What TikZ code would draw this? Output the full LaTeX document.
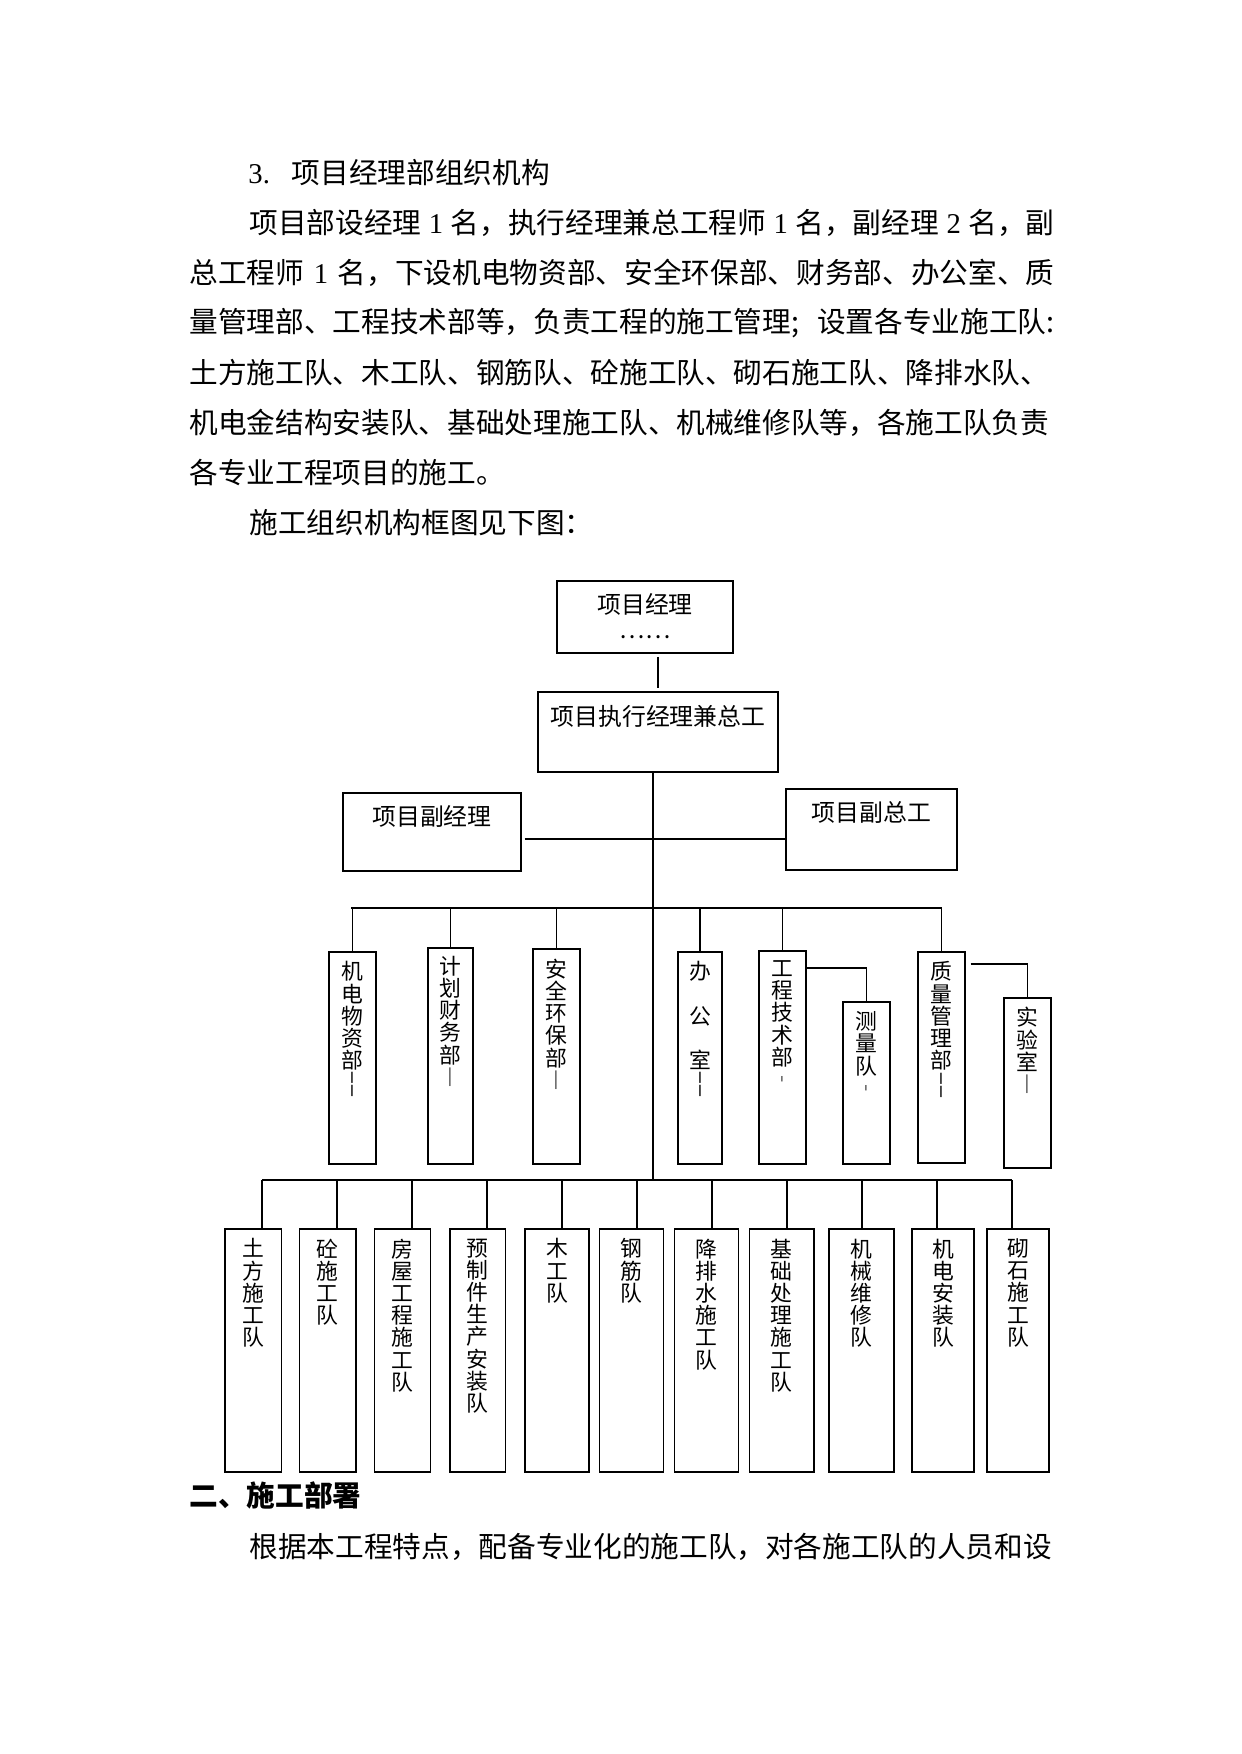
\documentclass[tikz,border=0pt]{standalone}
\usepackage{fontspec}
\setmainfont{Noto Sans CJK SC}
\newfontfamily\latinserif{Liberation Serif}
\usepackage{tikz}
\usetikzlibrary{positioning}
\XeTeXlinebreaklocale "zh"
\XeTeXlinebreakskip=0pt plus 2pt minus 0.3pt
\definecolor{pageink}{HTML}{000000}
\definecolor{pagebg}{HTML}{FFFFFF}
\newlength\unitpx
\setlength\unitpx{0.016922cm}

\tikzset{
  orgbox/.style={rectangle, inner sep=0pt},
  orgheavy/.style={draw=pageink, line width=0.9pt},
  orgmedium/.style={draw=pageink, line width=0.7pt},
  orglight/.style={draw=pageink, line width=0.5pt},
  deptbox/.style={orgbox, minimum width=47\unitpx},
  teambox/.style={orgbox, orgmedium, minimum height=243\unitpx},
  bodytext/.style={inner sep=0pt, anchor=west, text=pageink, font=\fontsize{13.8}{16}\selectfont},
  boxtext/.style={inner sep=0pt, text=pageink, align=center, font=\fontsize{11.5}{12.2}\selectfont},
  vtext/.style={inner sep=0pt, text=pageink, align=center, font=\fontsize{10.5}{10.7}\selectfont}
}

\begin{document}
\begin{tikzpicture}[x=0.016922cm, y=-0.016922cm]
    \fill[pagebg] (0,0) rectangle (1241,1754);
    \useasboundingbox (0,0) rectangle (1241,1754);

    % Page text above the chart
    \node[bodytext] (title) at (248,173) {{\latinserif 3.}\hspace{10.5pt}项目经理部组织机构};
    \node[bodytext] (para1) at (249,223) {\hbox to 805\unitpx{项目部设经理 {\latinserif 1} 名，执行经理兼总工程师 {\latinserif 1} 名，副经理 {\latinserif 2} 名，副}};
    \node[bodytext] (para2) at (189,273) {\hbox to 865\unitpx{总工程师 {\latinserif 1} 名，下设机电物资部、安全环保部、财务部、办公室、质}};
    \node[bodytext] (para3) at (189,323) {\hbox to 865\unitpx{量管理部、工程技术部等，负责工程的施工管理; 设置各专业施工队:}};
    \node[bodytext] (para4) at (189,373) {\hbox to 865\unitpx{土方施工队、木工队、钢筋队、砼施工队、砌石施工队、降排水队、}};
    \node[bodytext] (para5) at (189,423) {\hbox to 865\unitpx{机电金结构安装队、基础处理施工队、机械维修队等，各施工队负责}};
    \node[bodytext] (para6) at (189,473) {各专业工程项目的施工。};
    \node[bodytext] (para7) at (249,523) {施工组织机构框图见下图：};

    % Management boxes
    \node[orgbox, orgheavy, minimum width=176\unitpx, minimum height=72\unitpx] (mgr) at (645,617) {};
    \node[orgbox, orglight, minimum width=240\unitpx, minimum height=80\unitpx] (exec) at (658,732) {};
    \node[orgbox, orgmedium, minimum width=178\unitpx, minimum height=78\unitpx] (depmgr) at (432,832) {};
    \node[orgbox, orgheavy, minimum width=171\unitpx, minimum height=81\unitpx] (depeng) at (871.5,829.5) {};

    \node[boxtext, below=13\unitpx of mgr.north] (mgrtx) {项目经理\\……};
    \node[boxtext, below=13\unitpx of exec.north] (exectx) {项目执行经理兼总工};
    \node[boxtext, below=13\unitpx of depmgr.north] (depmgrtx) {项目副经理};
    \node[boxtext, below=13\unitpx of depeng.north] (depengtx) {项目副总工};

    % Departments
    \node[deptbox, orgheavy, minimum height=212\unitpx] (jidian) at (352.5,1058) {};
    \node[deptbox, orglight, minimum width=45\unitpx, minimum height=216\unitpx] (caiwu) at (450.5,1056) {};
    \node[deptbox, orglight, minimum height=215\unitpx] (anquan) at (556.5,1056.5) {};
    \node[deptbox, orgheavy, minimum width=44\unitpx, minimum height=212\unitpx] (bangong) at (700,1058) {};
    \node[deptbox, orgheavy, minimum height=213\unitpx] (jishu) at (782.5,1057.5) {};
    \node[deptbox, orgheavy, minimum height=162\unitpx] (celiang) at (866.5,1083) {};
    \node[deptbox, orgmedium, minimum height=211\unitpx] (zhiliang) at (941.5,1057.5) {};
    \node[deptbox, orgheavy, minimum height=170\unitpx] (shiyan) at (1027.5,1083) {};

    \node[vtext, below=10\unitpx of jidian.north] (jidiantx) {机\\电\\物\\资\\部\\¦};
    \node[vtext, below=8\unitpx of caiwu.north] (caiwutx) {计\\划\\财\\务\\部\\︱};
    \node[vtext, below=10\unitpx of anquan.north] (anquantx) {安\\全\\环\\保\\部\\︱};
    \node[vtext, below=10\unitpx of bangong.north] (bangongtx) {办\\　\\公\\　\\室\\¦};
    \node[vtext, below=10\unitpx of jishu.north] (jishutx) {工\\程\\技\\术\\部\\︲};
    \node[vtext, below=10\unitpx of celiang.north] (celiangtx) {测\\量\\队\\︲};
    \node[vtext, below=10\unitpx of zhiliang.north] (zhiliangtx) {质\\量\\管\\理\\部\\¦};
    \node[vtext, below=10\unitpx of shiyan.north] (shiyantx) {实\\验\\室\\︱};

    % Construction teams
    \node[teambox, minimum width=56.5\unitpx] (tufang) at (253.25,1350.5) {};
    \node[teambox, minimum width=56.4\unitpx] (tong) at (327.8,1350.5) {};
    \node[teambox, minimum width=55.9\unitpx] (fangwu) at (402.65,1350.5) {};
    \node[teambox, minimum width=55.9\unitpx] (yuzhi) at (477.75,1350.5) {};
    \node[teambox, minimum width=64.1\unitpx] (mugong) at (556.95,1350.5) {};
    \node[teambox, minimum width=64.2\unitpx] (gangjin) at (631.5,1350.5) {};
    \node[teambox, minimum width=64.2\unitpx] (jiangpai) at (706.6,1350.5) {};
    \node[teambox, minimum width=64.2\unitpx] (jichu) at (781.7,1350.5) {};
    \node[teambox, minimum width=65\unitpx] (jixie) at (861.5,1350.5) {};
    \node[teambox, minimum width=62\unitpx] (anzhuang) at (943,1350.5) {};
    \node[teambox, minimum width=62\unitpx] (qishi) at (1018,1350.5) {};

    \node[vtext, below=10\unitpx of tufang.north] (tufangtx) {土\\方\\施\\工\\队};
    \node[vtext, below=10\unitpx of tong.north] (tongtx) {砼\\施\\工\\队};
    \node[vtext, below=10\unitpx of fangwu.north] (fangwutx) {房\\屋\\工\\程\\施\\工\\队};
    \node[vtext, below=10\unitpx of yuzhi.north] (yuzhitx) {预\\制\\件\\生\\产\\安\\装\\队};
    \node[vtext, below=10\unitpx of mugong.north] (mugongtx) {木\\工\\队};
    \node[vtext, below=10\unitpx of gangjin.north] (gangjintx) {钢\\筋\\队};
    \node[vtext, below=10\unitpx of jiangpai.north] (jiangpaitx) {降\\排\\水\\施\\工\\队};
    \node[vtext, below=10\unitpx of jichu.north] (jichutx) {基\\础\\处\\理\\施\\工\\队};
    \node[vtext, below=10\unitpx of jixie.north] (jixietx) {机\\械\\维\\修\\队};
    \node[vtext, below=10\unitpx of anzhuang.north] (anzhuangtx) {机\\电\\安\\装\\队};
    \node[vtext, below=10\unitpx of qishi.north] (qishitx) {砌\\石\\施\\工\\队};

    % Bar points
    \coordinate (spine) at (653,0);
    \coordinate (vice) at (0,839);
    \coordinate (db1) at (351,908);
    \coordinate (db2) at (942,908);
    \coordinate (tb1) at (262,1180);
    \coordinate (tb2) at (337,1180);
    \coordinate (tb3) at (412,1180);
    \coordinate (tb4) at (487,1180);
    \coordinate (tb5) at (562,1180);
    \coordinate (tb6) at (637,1180);
    \coordinate (tb7) at (712,1180);
    \coordinate (tb8) at (787,1180);
    \coordinate (tb9) at (862,1180);
    \coordinate (tb10) at (937,1180);
    \coordinate (tb11) at (1012,1180);

    % Connectors
    \draw[orgheavy, shorten <=3\unitpx, shorten >=3\unitpx] (mgr.south -| exec.north) -- (exec.north);
    \draw[orglight] (spine |- exec.south) -- (spine |- tb1);
    \draw[orgheavy, shorten <=3\unitpx] (depmgr.east |- vice) -- (depeng.west |- vice);

    \draw[orglight] (db1) -- (db2);
    \draw[orgmedium] (jidian.north |- db1) -- (jidian.north);
    \draw[orgmedium] (caiwu.north |- db1) -- (caiwu.north);
    \draw[orgmedium] (anquan.north |- db1) -- (anquan.north);
    \draw[orgmedium] (bangong.north |- db1) -- (bangong.north);
    \draw[orgmedium] (jishu.north |- db1) -- (jishu.north);
    \draw[orgmedium] (zhiliang.north |- db1) -- (zhiliang.north);
    \draw[orgheavy] ([yshift=-18\unitpx]jishu.north east) -| (celiang.north);
    \draw[orgheavy] ([xshift=5\unitpx, yshift=-13\unitpx]zhiliang.north east) -| (shiyan.north);

    \draw[orgheavy] (tb1) -- (tb11);
    \draw[orgmedium] (tb1) -- (tb1 |- tufang.north);
    \draw[orgmedium] (tb2) -- (tb2 |- tong.north);
    \draw[orgmedium] (tb3) -- (tb3 |- fangwu.north);
    \draw[orgmedium] (tb4) -- (tb4 |- yuzhi.north);
    \draw[orgmedium] (tb5) -- (tb5 |- mugong.north);
    \draw[orgmedium] (tb6) -- (tb6 |- gangjin.north);
    \draw[orgmedium] (tb7) -- (tb7 |- jiangpai.north);
    \draw[orgmedium] (tb8) -- (tb8 |- jichu.north);
    \draw[orgmedium] (tb9) -- (tb9 |- jixie.north);
    \draw[orgmedium] (tb10) -- (tb10 |- anzhuang.north);
    \draw[orgmedium] (tb11) -- (tb11 |- qishi.north);

    % Page text below the chart
    \node[bodytext, font=\fontsize{13.8}{16}\selectfont\bfseries] (sect) at (189,1495) {二、施工部署};
    \node[bodytext] (para8) at (249,1547) {\hbox to 805\unitpx{根据本工程特点，配备专业化的施工队，对各施工队的人员和设}};
\end{tikzpicture}
\end{document}
